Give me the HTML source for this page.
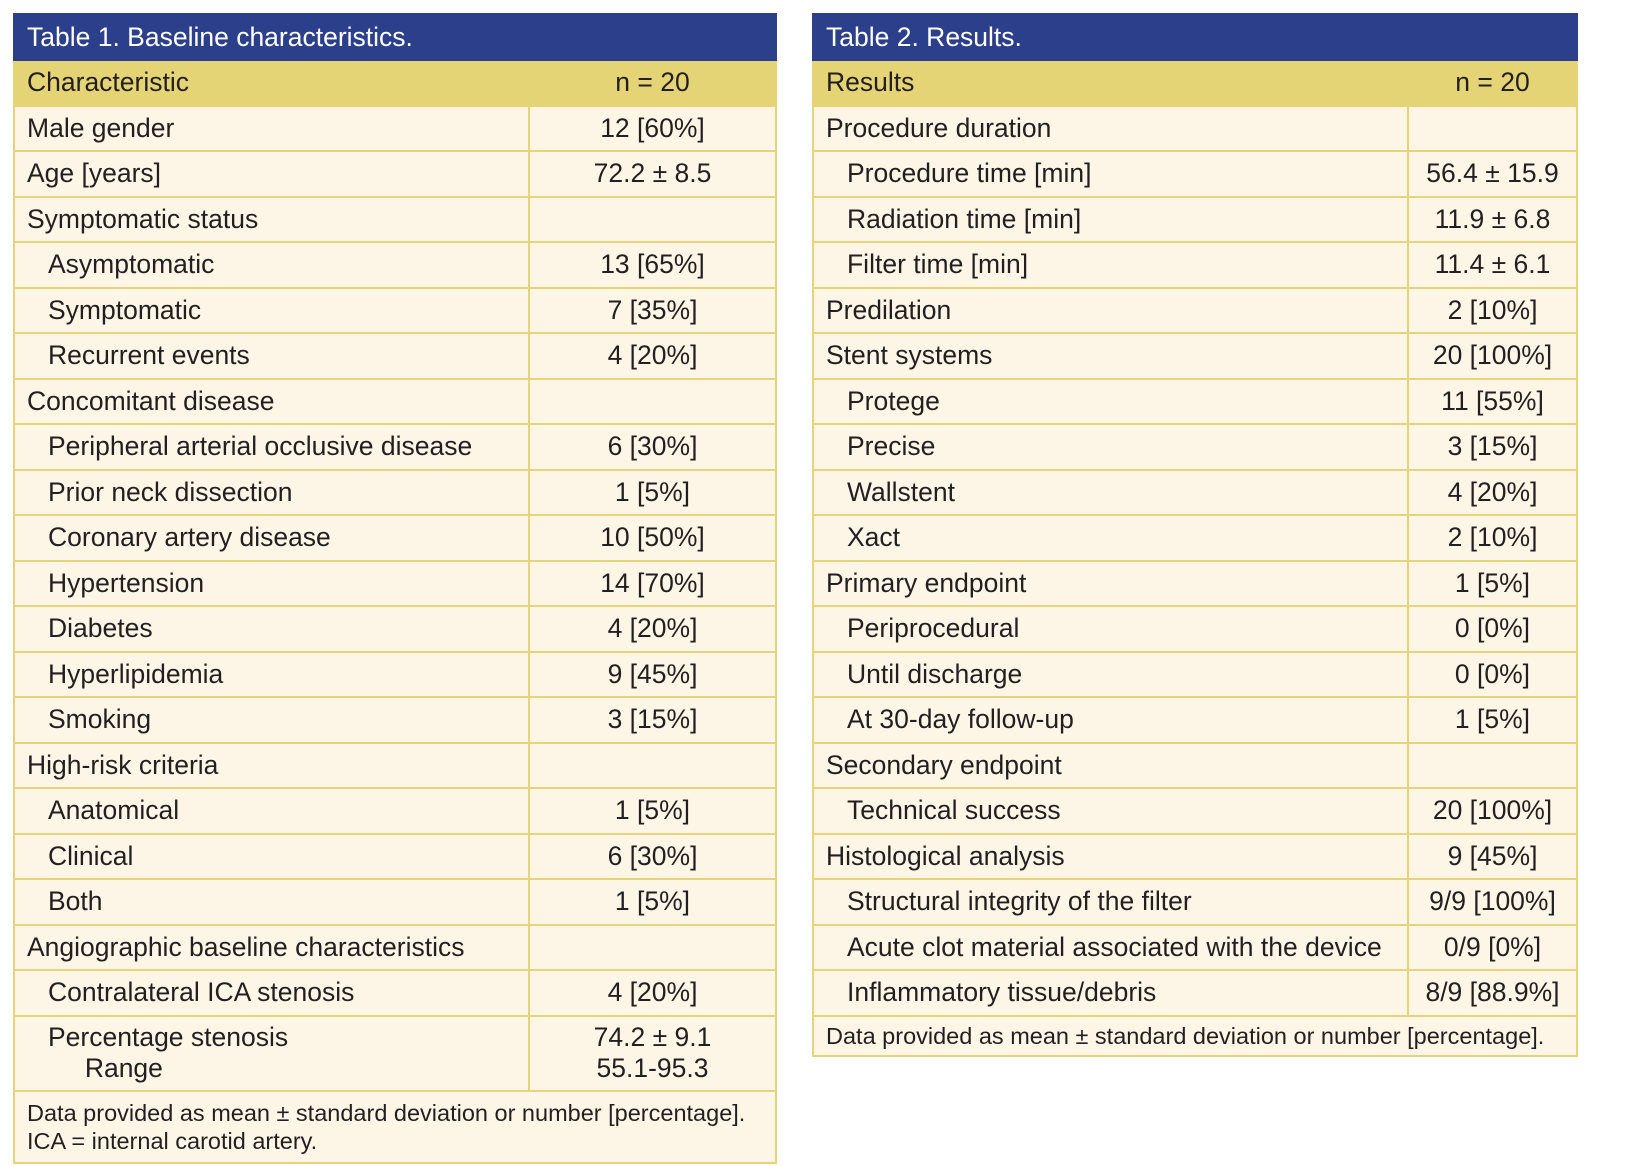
<!DOCTYPE html>
<html><head><meta charset="utf-8"><style>
body{margin:0;width:1628px;height:1166px;background:#fff;font-family:"Liberation Sans",sans-serif;color:#231f20;position:relative;overflow:hidden}
table{position:absolute;top:13px;border-collapse:collapse;table-layout:fixed;font-size:26.5px}
td{border:2px solid #e6d47c;background:#fdf6e7;height:43.5px;padding:0 12px;white-space:nowrap;overflow:hidden}
td.v{text-align:center}
td.i{padding-left:33px}
tr.t td{background:#2c3f8b;color:#fff;border-color:#2c3f8b;height:44px}
tr.h td{background:#e5d475;border-color:#e5d475;height:43.5px}
td.f{font-size:23.5px;line-height:28px;padding:7px 12px}
</style></head><body>
<table style="left:13px;width:764px">
<colgroup><col style="width:515px"><col></colgroup>
<tr class="t"><td colspan="2">Table 1. Baseline characteristics.</td></tr>
<tr class="h"><td>Characteristic</td><td class="v">n = 20</td></tr>
<tr><td>Male gender</td><td class="v">12 [60%]</td></tr>
<tr><td>Age [years]</td><td class="v">72.2 ± 8.5</td></tr>
<tr><td>Symptomatic status</td><td></td></tr>
<tr><td class="i">Asymptomatic</td><td class="v">13 [65%]</td></tr>
<tr><td class="i">Symptomatic</td><td class="v">7 [35%]</td></tr>
<tr><td class="i">Recurrent events</td><td class="v">4 [20%]</td></tr>
<tr><td>Concomitant disease</td><td></td></tr>
<tr><td class="i">Peripheral arterial occlusive disease</td><td class="v">6 [30%]</td></tr>
<tr><td class="i">Prior neck dissection</td><td class="v">1 [5%]</td></tr>
<tr><td class="i">Coronary artery disease</td><td class="v">10 [50%]</td></tr>
<tr><td class="i">Hypertension</td><td class="v">14 [70%]</td></tr>
<tr><td class="i">Diabetes</td><td class="v">4 [20%]</td></tr>
<tr><td class="i">Hyperlipidemia</td><td class="v">9 [45%]</td></tr>
<tr><td class="i">Smoking</td><td class="v">3 [15%]</td></tr>
<tr><td>High-risk criteria</td><td></td></tr>
<tr><td class="i">Anatomical</td><td class="v">1 [5%]</td></tr>
<tr><td class="i">Clinical</td><td class="v">6 [30%]</td></tr>
<tr><td class="i">Both</td><td class="v">1 [5%]</td></tr>
<tr><td>Angiographic baseline characteristics</td><td></td></tr>
<tr><td class="i">Contralateral ICA stenosis</td><td class="v">4 [20%]</td></tr>
<tr><td class="i" style="height:73px;line-height:31px">Percentage stenosis<br>&nbsp;&nbsp;&nbsp;&nbsp;&nbsp;Range</td><td class="v" style="line-height:31px">74.2 ± 9.1<br>55.1-95.3</td></tr>
<tr><td colspan="2" class="f">Data provided as mean ± standard deviation or number [percentage].<br>ICA = internal carotid artery.</td></tr>
</table>

<table style="left:812px;width:766px">
<colgroup><col style="width:595px"><col></colgroup>
<tr class="t"><td colspan="2">Table 2. Results.</td></tr>
<tr class="h"><td>Results</td><td class="v">n = 20</td></tr>
<tr><td>Procedure duration</td><td></td></tr>
<tr><td class="i">Procedure time [min]</td><td class="v">56.4 ± 15.9</td></tr>
<tr><td class="i">Radiation time [min]</td><td class="v">11.9 ± 6.8</td></tr>
<tr><td class="i">Filter time [min]</td><td class="v">11.4 ± 6.1</td></tr>
<tr><td>Predilation</td><td class="v">2 [10%]</td></tr>
<tr><td>Stent systems</td><td class="v">20 [100%]</td></tr>
<tr><td class="i">Protege</td><td class="v">11 [55%]</td></tr>
<tr><td class="i">Precise</td><td class="v">3 [15%]</td></tr>
<tr><td class="i">Wallstent</td><td class="v">4 [20%]</td></tr>
<tr><td class="i">Xact</td><td class="v">2 [10%]</td></tr>
<tr><td>Primary endpoint</td><td class="v">1 [5%]</td></tr>
<tr><td class="i">Periprocedural</td><td class="v">0 [0%]</td></tr>
<tr><td class="i">Until discharge</td><td class="v">0 [0%]</td></tr>
<tr><td class="i">At 30-day follow-up</td><td class="v">1 [5%]</td></tr>
<tr><td>Secondary endpoint</td><td></td></tr>
<tr><td class="i">Technical success</td><td class="v">20 [100%]</td></tr>
<tr><td>Histological analysis</td><td class="v">9 [45%]</td></tr>
<tr><td class="i">Structural integrity of the filter</td><td class="v">9/9 [100%]</td></tr>
<tr><td class="i">Acute clot material associated with the device</td><td class="v">0/9 [0%]</td></tr>
<tr><td class="i">Inflammatory tissue/debris</td><td class="v">8/9 [88.9%]</td></tr>
<tr><td colspan="2" class="f" style="padding:0 12px;height:38px">Data provided as mean ± standard deviation or number [percentage].</td></tr>
</table>
</body></html>
